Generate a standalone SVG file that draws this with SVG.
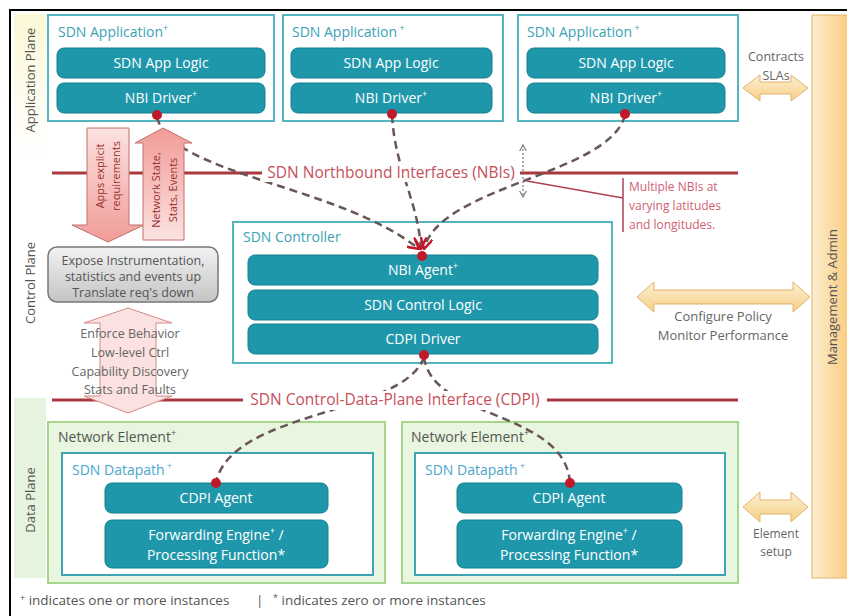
<svg xmlns="http://www.w3.org/2000/svg" width="847" height="616" viewBox="0 0 847 616">
<defs>
<style>
text{font-family:"Open Sans","Noto Sans","DejaVu Sans",sans-serif}
.bar{fill:#1f97ab;stroke:#177f90;stroke-width:1}
.bt{fill:#ffffff;font-size:14px;text-anchor:middle}
.box{fill:#ffffff;stroke:#55b6c2;stroke-width:2}
.tt{fill:#3aa3b4;font-size:14px}
.ne{fill:#e8f5df;stroke:#a6d58e;stroke-width:2}
.net{fill:#555;font-size:14px}
.dpt{fill:#4aa6cc;font-size:14px}
.dp{fill:#ffffff;stroke:#3da4b4;stroke-width:2}
.dot{fill:#c0192b}
.dash{fill:none;stroke:#6a5656;stroke-width:2.5;stroke-dasharray:8 5}
.ifl{stroke:#a8393d;stroke-width:3}
.ift{fill:#c6505a;font-size:15.5px;text-anchor:middle}
.gray{fill:#666;font-size:12.5px;text-anchor:middle}
.oarr{fill:url(#og);stroke:#e2b36c;stroke-width:1}
.plane{fill:#555;font-size:13px;text-anchor:middle}
.redt{fill:#9c2f2f;font-size:11px;text-anchor:middle}
.sup{font-size:9px}
.leg{fill:#555;font-size:13.5px}
</style>
<linearGradient id="og" x1="0" y1="0" x2="0" y2="1"><stop offset="0" stop-color="#fdf0d2"/><stop offset="1" stop-color="#f5cf86"/></linearGradient>
<linearGradient id="mg" x1="0" y1="0" x2="1" y2="0"><stop offset="0" stop-color="#fdeed0"/><stop offset="1" stop-color="#f9c978"/></linearGradient>
<linearGradient id="gg" x1="0" y1="0" x2="0" y2="1"><stop offset="0" stop-color="#f2f2f2"/><stop offset="1" stop-color="#c4c4c4"/></linearGradient>
<linearGradient id="pd" x1="0" y1="0" x2="0" y2="1"><stop offset="0" stop-color="#fbe2e0"/><stop offset="1" stop-color="#f19c98"/></linearGradient>
<linearGradient id="pu" x1="0" y1="1" x2="0" y2="0"><stop offset="0" stop-color="#fbe2e0"/><stop offset="1" stop-color="#f19c98"/></linearGradient>
<linearGradient id="yg" x1="0" y1="0" x2="0" y2="1"><stop offset="0" stop-color="#fbf8d6"/><stop offset="1" stop-color="#ffffff"/></linearGradient>
<marker id="rh" viewBox="0 0 10 10" refX="9" refY="5" markerWidth="5" markerHeight="5" orient="auto-start-reverse"><path d="M0,0 L9,5 L0,10" fill="none" stroke="#c0192b" stroke-width="2"/></marker>
<marker id="gh" viewBox="0 0 10 10" refX="9" refY="5" markerWidth="6" markerHeight="6" orient="auto-start-reverse"><path d="M0,0 L9,5 L0,10" fill="none" stroke="#777" stroke-width="1.5"/></marker>
</defs>
<rect x="0" y="0" width="847" height="616" fill="#ffffff"/>
<path d="M10,616 V10 H847" fill="none" stroke="#000" stroke-width="2"/>
<g id="planes">
<rect x="14" y="14" width="32" height="140" fill="url(#yg)"/>
<rect x="14" y="398" width="32" height="180" fill="#e6f3de"/>
<text class="plane" transform="translate(35,80) rotate(-90)">Application Plane</text>
<text class="plane" transform="translate(35,283) rotate(-90)">Control Plane</text>
<text class="plane" transform="translate(35,500) rotate(-90)">Data Plane</text>
</g>
<g id="interfaces">
<line class="ifl" x1="52" y1="173" x2="262" y2="173"/>
<line class="ifl" x1="520" y1="173" x2="738" y2="173"/>
<line class="ifl" x1="52" y1="400" x2="243" y2="400"/>
<line class="ifl" x1="547" y1="400" x2="738" y2="400"/>
</g>
<g id="app1">
<rect class="box" x="48" y="15" width="226" height="106"/>
<text class="tt" x="58" y="37">SDN Application<tspan class="sup" dy="-6">+</tspan></text>
<rect class="bar" x="57" y="48" width="208" height="30" rx="7"/>
<text class="bt" x="161" y="68">SDN App Logic</text>
<rect class="bar" x="57" y="83" width="208" height="30" rx="7"/>
<text class="bt" x="161" y="103">NBI Driver<tspan class="sup" dy="-6">+</tspan></text>
</g>
<g id="app2">
<rect class="box" x="283" y="15" width="220" height="106"/>
<text class="tt" x="292" y="37">SDN Application<tspan class="sup" dy="-6"> +</tspan></text>
<rect class="bar" x="291" y="48" width="201" height="30" rx="7"/>
<text class="bt" x="391" y="68">SDN App Logic</text>
<rect class="bar" x="291" y="83" width="201" height="30" rx="7"/>
<text class="bt" x="391" y="103">NBI Driver<tspan class="sup" dy="-6">+</tspan></text>
</g>
<g id="app3">
<rect class="box" x="518" y="15" width="220" height="106"/>
<text class="tt" x="527" y="37">SDN Application<tspan class="sup" dy="-6"> +</tspan></text>
<rect class="bar" x="527" y="48" width="198" height="30" rx="7"/>
<text class="bt" x="626" y="68">SDN App Logic</text>
<rect class="bar" x="527" y="83" width="198" height="30" rx="7"/>
<text class="bt" x="626" y="103">NBI Driver<tspan class="sup" dy="-6">+</tspan></text>
</g>
<g id="controller">
<rect class="box" x="233" y="222" width="379" height="141"/>
<text class="tt" x="243" y="242" font-size="15">SDN Controller</text>
<rect class="bar" x="248" y="255" width="350" height="30" rx="7"/>
<text class="bt" x="423" y="275">NBI Agent<tspan class="sup" dy="-6">+</tspan></text>
<rect class="bar" x="248" y="290" width="350" height="30" rx="7"/>
<text class="bt" x="423" y="310">SDN Control Logic</text>
<rect class="bar" x="248" y="324" width="350" height="30" rx="7"/>
<text class="bt" x="423" y="344">CDPI Driver</text>
</g>
<g id="ne1">
<rect class="ne" x="48" y="422" width="337" height="161"/>
<text class="net" x="58" y="442">Network Element<tspan class="sup" dy="-6">+</tspan></text>
<rect class="dp" x="62" y="453" width="311" height="122"/>
<text class="dpt" x="72" y="475">SDN Datapath<tspan class="sup" dy="-6"> +</tspan></text>
<rect class="bar" x="105" y="483" width="223" height="30" rx="7"/>
<text class="bt" x="216" y="503">CDPI Agent</text>
<rect class="bar" x="105" y="520" width="223" height="48" rx="7"/>
<text class="bt" x="216" y="540">Forwarding Engine<tspan class="sup" dy="-6">+</tspan><tspan dy="6"> /</tspan></text>
<text class="bt" x="216" y="560">Processing Function*</text>
</g>
<g id="ne2">
<rect class="ne" x="402" y="422" width="336" height="161"/>
<text class="net" x="411" y="442">Network Element<tspan class="sup" dy="-6">+</tspan></text>
<rect class="dp" x="415" y="453" width="310" height="122"/>
<text class="dpt" x="425" y="475">SDN Datapath<tspan class="sup" dy="-6"> +</tspan></text>
<rect class="bar" x="457" y="483" width="225" height="30" rx="7"/>
<text class="bt" x="569" y="503">CDPI Agent</text>
<rect class="bar" x="457" y="520" width="225" height="48" rx="7"/>
<text class="bt" x="569" y="540">Forwarding Engine<tspan class="sup" dy="-6">+</tspan><tspan dy="6"> /</tspan></text>
<text class="bt" x="569" y="560">Processing Function*</text>
</g>
<g id="connectors">
<path class="dash" d="M157,117 C170,175 340,185 419,249" marker-end="url(#rh)"/>
<path class="dash" d="M392,115 C395,170 418,200 421,249" marker-end="url(#rh)"/>
<path class="dash" d="M625,115 C610,175 440,185 424,249" marker-end="url(#rh)"/>
<path class="dash" d="M424,357 C405,415 230,410 216,483"/>
<path class="dash" d="M424,357 C432,420 565,410 570,483"/>
<line x1="523" y1="145" x2="523" y2="197" stroke="#777" stroke-width="1.2" stroke-dasharray="2 2" marker-start="url(#gh)" marker-end="url(#gh)"/>
<path d="M527,181 L623,198 M623,178 V232" fill="none" stroke="#b04252" stroke-width="1.5"/>
<circle class="dot" cx="157" cy="115" r="5"/>
<circle class="dot" cx="392" cy="114" r="5"/>
<circle class="dot" cx="625" cy="114" r="5"/>
<circle class="dot" cx="422" cy="256" r="5"/>
<circle class="dot" cx="424" cy="355" r="5"/>
<circle class="dot" cx="216" cy="483" r="5"/>
<circle class="dot" cx="570" cy="483" r="5"/>
</g>
<g id="nbi-label">
<rect x="265" y="162" width="252" height="20" fill="#ffffff"/>
<text class="ift" x="391" y="178">SDN Northbound Interfaces (NBIs)</text>
</g>
<g id="cdpi-label">
<rect x="245" y="391" width="300" height="19" fill="#ffffff"/>
<text class="ift" x="395" y="405">SDN Control-Data-Plane Interface (CDPI)</text>
</g>
<g id="nbi-note">
<text x="629" y="191" fill="#cf6170" font-size="12">Multiple NBIs at</text>
<text x="629" y="210" fill="#cf6170" font-size="12">varying latitudes</text>
<text x="629" y="229" fill="#cf6170" font-size="12">and longitudes.</text>
</g>
<g id="arrow-down">
<path d="M87,128 H129 V225 H144 L108,242 L72,225 H87 Z" fill="url(#pd)" stroke="#c2706c" stroke-width="1"/>
<text class="redt" transform="translate(104,176) rotate(-90)">Apps explicit</text>
<text class="redt" transform="translate(120,176) rotate(-90)">requirements</text>
</g>
<g id="arrow-up">
<path d="M163,128 L192,143 H184 V240 H143 V143 H135 Z" fill="url(#pu)" stroke="#c2706c" stroke-width="1"/>
<text class="redt" transform="translate(160,190) rotate(-90)">Network State,</text>
<text class="redt" transform="translate(177,190) rotate(-90)">Stats, Events</text>
</g>
<g id="expose">
<rect x="48" y="247" width="170" height="55" rx="9" fill="url(#gg)" stroke="#777" stroke-width="1.5"/>
<text x="133" y="265" fill="#555" font-size="12.5" text-anchor="middle">Expose Instrumentation,</text>
<text x="133" y="281" fill="#555" font-size="12.5" text-anchor="middle">statistics and events up</text>
<text x="133" y="297" fill="#555" font-size="12.5" text-anchor="middle">Translate req's down</text>
</g>
<g id="arrow-both">
<path d="M128,308 L172,323 H156 V396 H172 L128,413 L84,396 H100 V323 H84 Z" fill="#fbe1e0" stroke="#d58a88" stroke-width="1"/>
<text class="gray" x="130" y="338">Enforce Behavior</text>
<text class="gray" x="130" y="357">Low-level Ctrl</text>
<text class="gray" x="130" y="376">Capability Discovery</text>
<text class="gray" x="130" y="394">Stats and Faults</text>
</g>
<g id="mgmt">
<rect x="812" y="15" width="40" height="563" fill="url(#mg)" stroke="#e3b468" stroke-width="1"/>
<text x="837" y="297" fill="#555" font-size="13" text-anchor="middle" transform="rotate(-90 837 297)">Management &amp; Admin</text>
</g>
<g id="contracts">
<path class="oarr" d="M743,88 L760,75 V82 H791 V75 L808,88 L791,101 V94 H760 V101 Z"/>
<text x="776" y="61" fill="#666" font-size="12.5" text-anchor="middle">Contracts</text>
<text x="776" y="80" fill="#666" font-size="12.5" text-anchor="middle">SLAs</text>
</g>
<g id="configure">
<path class="oarr" d="M637,297 L654,282 V290 H793 V282 L810,297 L793,312 V304 H654 V312 Z"/>
<text x="723" y="321" fill="#666" font-size="13" text-anchor="middle">Configure Policy</text>
<text x="723" y="340" fill="#666" font-size="13" text-anchor="middle">Monitor Performance</text>
</g>
<g id="element-setup">
<path class="oarr" d="M743,507 L760,492 V500 H791 V492 L808,507 L791,522 V514 H760 V522 Z"/>
<text x="776" y="538" fill="#666" font-size="12" text-anchor="middle">Element</text>
<text x="776" y="556" fill="#666" font-size="12" text-anchor="middle">setup</text>
</g>
<g id="legend">
<text class="leg" x="20" y="605"><tspan class="sup" dy="-4">+</tspan><tspan dy="4"> indicates one or more instances</tspan></text>
<text class="leg" x="256" y="605">|</text>
<text class="leg" x="273" y="605"><tspan class="sup" dy="-4">*</tspan><tspan dy="4"> indicates zero or more instances</tspan></text>
</g>
</svg>
